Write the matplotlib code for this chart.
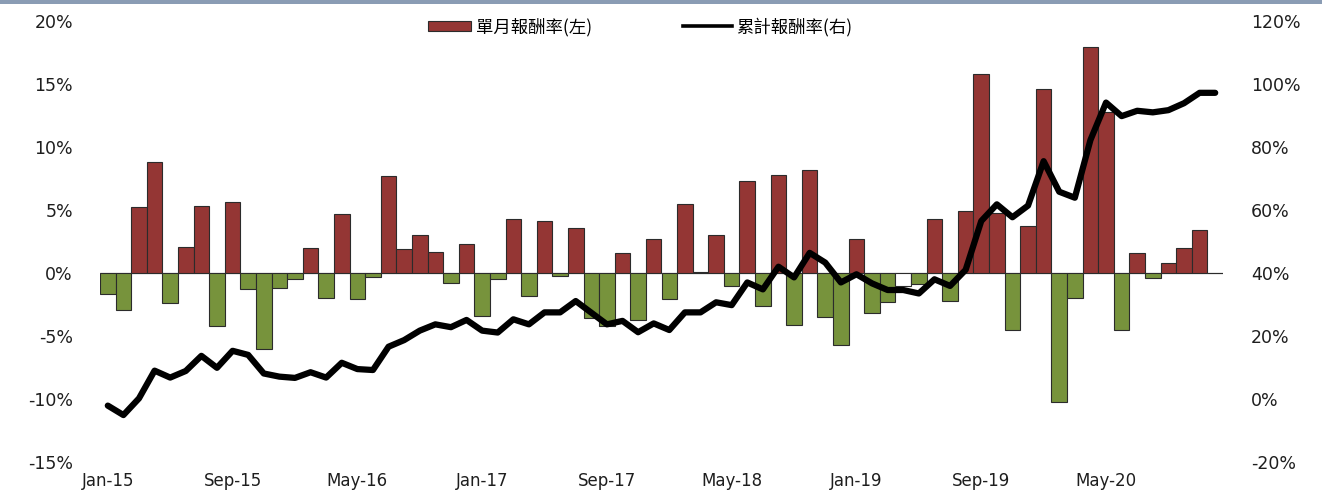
import matplotlib
matplotlib.use('Agg')
import matplotlib.pyplot as plt
from matplotlib.lines import Line2D
from matplotlib.patches import Patch, Rectangle
import numpy as np
import pandas as pd

# 月份 Jan-15 .. Dec-20
months = pd.date_range('2015-01-01', periods=72, freq='MS').strftime('%b-%y').tolist()

# 單月報酬率 (%) - 左軸
monthly = [-1.7, -2.9, 5.2, 8.8, -2.4, 2.1, 5.3, -4.2, 5.6, -1.3,
           -6.0, -1.2, -0.5, 2.0, -2.0, 4.7, -2.1, -0.3, 7.7, 1.9,
           3.0, 1.7, -0.8, 2.3, -3.4, -0.5, 4.3, -1.8, 4.1, -0.2,
           3.6, -3.6, -4.2, 1.6, -3.7, 2.7, -2.1, 5.5, 0.1, 3.0,
           -1.0, 7.3, -2.6, 7.8, -4.1, 8.2, -3.5, -5.7, 2.7, -3.2,
           -2.3, -1.0, -0.9, 4.3, -2.2, 4.9, 15.8, 4.8, -4.5, 3.7,
           14.6, -10.2, -2.0, 17.9, 12.8, -4.5, 1.6, -0.4, 0.8, 2.0,
           3.4, 0.0]

# 累計報酬率 (%) - 右軸
cumulative = [-2.1, -5.1, 0.2, 9.0, 6.8, 8.9, 13.7, 9.9, 15.3, 14.0,
              8.1, 7.1, 6.7, 8.5, 6.8, 11.5, 9.5, 9.2, 16.6, 18.7,
              21.7, 23.7, 22.8, 25.1, 21.7, 21.1, 25.3, 23.7, 27.5, 27.5,
              31.1, 27.4, 23.7, 24.8, 21.2, 24.0, 21.9, 27.5, 27.5, 30.7,
              29.8, 37.0, 34.8, 42.0, 38.6, 46.4, 43.3, 37.0, 39.6, 36.7,
              34.6, 34.6, 33.5, 38.0, 35.9, 41.0, 56.5, 61.8, 57.7, 61.4,
              75.5, 65.8, 63.9, 82.2, 94.1, 89.8, 91.5, 91.0, 91.7, 93.9,
              97.2, 97.2]

left_ticks = [-15, -10, -5, 0, 5, 10, 15, 20]
right_ticks = [-20, 0, 20, 40, 60, 80, 100, 120]
labels = ['單月報酬率(左)', '累計報酬率(右)']

red = '#943634'
green = '#77933c'
txt = '#1e1e1e'

fig = plt.figure(figsize=(13.22, 4.94), dpi=100)
ax = fig.add_axes([100/1322, 1-462/494, 1123/1322, 441/494])
ax2 = ax.twinx()

x = np.arange(len(months))
cols = [red if v > 0 else green for v in monthly]
bars = ax.bar(x, monthly, width=1.0, color=cols, edgecolor='#2b2b2b', linewidth=0.8)
bars[51].set_facecolor('white')  # as in the original
ax.axhline(0, color='#c8c8c8', lw=1, zorder=0)

ax2.plot(x, cumulative, color='black', lw=4.5, solid_joinstyle='round', solid_capstyle='round')

ax.set_xlim(-0.5, len(months) - 0.5)
ax.set_ylim(-15, 20)
ax2.set_ylim(-20, 120)
ax.set_yticks(left_ticks)
ax.set_yticklabels([f'{t}%' for t in left_ticks])
ax2.set_yticks(right_ticks)
ax2.set_yticklabels([f'{t}%' for t in right_ticks])
ax.set_xticks(x[::8])
ax.set_xticklabels(months[::8])

for a in (ax, ax2):
    for s in a.spines.values():
        s.set_visible(False)
    a.tick_params(length=0, colors=txt, labelsize=12.5)
ax.tick_params(axis='y', pad=19.5)
ax2.tick_params(axis='y', pad=20)
ax.tick_params(axis='x', pad=7, labelsize=12)

# legend: two pieces so each sits where the original has it
cjk = {'family': ['Noto Sans CJK TC', 'DejaVu Sans'], 'size': 12.5}
h1 = Patch(facecolor=red, edgecolor='#2b2b2b', linewidth=0.8)
h2 = Line2D([], [], color='black', lw=2.6)
fig.legend([h1], labels[:1], loc='center left', bbox_to_anchor=(428/1322, 1-27/494),
           frameon=False, borderpad=0, borderaxespad=0, handlelength=2.5, handleheight=0.55,
           handletextpad=0.25, prop=cjk)
fig.legend([h2], labels[1:], loc='center left', bbox_to_anchor=(683/1322, 1-27/494),
           frameon=False, borderpad=0, borderaxespad=0, handlelength=2.8,
           handletextpad=0.25, prop=cjk)

# top border band
fig.patches.append(Rectangle((0, 1-4/494), 1, 4/494, transform=fig.transFigure,
                             facecolor='#8a9cb4', edgecolor='none'))

fig.savefig('out.png', dpi=100)
